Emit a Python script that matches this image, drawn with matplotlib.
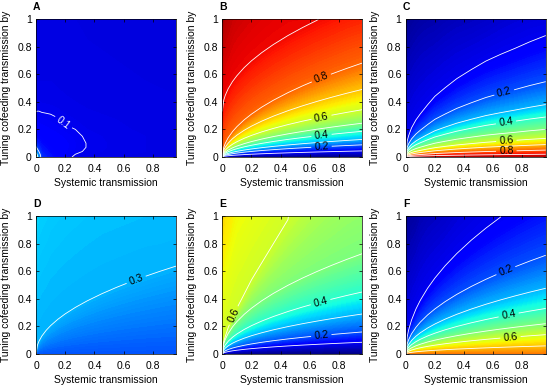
import numpy as np
import matplotlib
matplotlib.use('Agg')
import matplotlib.pyplot as plt

plt.rcParams['font.family'] = ['Liberation Sans', 'DejaVu Sans']

x_cols = [0, 0.01, 0.02, 0.04, 0.07, 0.1, 0.15, 0.2, 0.27, 0.35, 0.45, 0.55, 0.65, 0.75, 0.85, 0.96]

# ---- panel A: value table (not monotone in y, so a plain grid) ----
a_y = [0, 0.02, 0.04, 0.07, 0.1, 0.15, 0.2, 0.27, 0.35, 0.45, 0.55, 0.7, 0.85, 1.0]
# one list per x column, from y=0 up to y=1
a_cols = [
    [0.45, 0.34, 0.27, 0.21, 0.16, 0.13, 0.118, 0.108, 0.097, 0.093, 0.09, 0.088, 0.086, 0.085],
    [0.32, 0.28, 0.23, 0.18, 0.15, 0.128, 0.117, 0.107, 0.098, 0.093, 0.09, 0.088, 0.086, 0.085],
    [0.25, 0.23, 0.2, 0.165, 0.143, 0.126, 0.116, 0.107, 0.098, 0.093, 0.09, 0.088, 0.086, 0.085],
    [0.17, 0.16, 0.15, 0.14, 0.132, 0.122, 0.114, 0.106, 0.097, 0.092, 0.09, 0.088, 0.086, 0.085],
    [0.152, 0.146, 0.14, 0.133, 0.126, 0.119, 0.112, 0.105, 0.0965, 0.092, 0.09, 0.088, 0.086, 0.085],
    [0.14, 0.135, 0.13, 0.125, 0.12, 0.115, 0.11, 0.104, 0.096, 0.092, 0.09, 0.088, 0.086, 0.085],
    [0.12, 0.121, 0.121, 0.119, 0.117, 0.112, 0.107, 0.101, 0.095, 0.091, 0.089, 0.087, 0.086, 0.085],
    [0.104, 0.108, 0.111, 0.112, 0.112, 0.108, 0.103, 0.097, 0.093, 0.09, 0.089, 0.087, 0.086, 0.085],
    [0.098, 0.1, 0.103, 0.105, 0.105, 0.103, 0.1, 0.095, 0.091, 0.089, 0.088, 0.087, 0.086, 0.085],
    [0.093, 0.096, 0.098, 0.0995, 0.0995, 0.098, 0.095, 0.092, 0.09, 0.088, 0.087, 0.086, 0.085, 0.084],
    [0.091, 0.093, 0.095, 0.096, 0.096, 0.095, 0.093, 0.091, 0.089, 0.0875, 0.0865, 0.0855, 0.0845, 0.0835],
    [0.09, 0.091, 0.092, 0.093, 0.093, 0.092, 0.091, 0.09, 0.088, 0.087, 0.086, 0.085, 0.084, 0.083],
    [0.089, 0.09, 0.091, 0.0915, 0.0915, 0.091, 0.09, 0.089, 0.0875, 0.0865, 0.0855, 0.0845, 0.0835, 0.0825],
    [0.088, 0.089, 0.09, 0.09, 0.09, 0.09, 0.089, 0.088, 0.087, 0.086, 0.085, 0.084, 0.083, 0.082],
    [0.0875, 0.0885, 0.089, 0.0895, 0.0895, 0.089, 0.0885, 0.0875, 0.0865, 0.0855, 0.0845, 0.0835, 0.0825, 0.0815],
    [0.087, 0.088, 0.088, 0.089, 0.089, 0.088, 0.088, 0.087, 0.086, 0.085, 0.084, 0.083, 0.082, 0.081],
]

# ---- panels B-F: height of each contour level at every x in x_cols ----
# plus the value along the bottom (y=0) and along the top (y=1)
b_levels = [0.1, 0.2, 0.3, 0.4, 0.5, 0.6, 0.7, 0.8, 0.9]
b_lines = [
    [0, .0045, .0064, .009, .0119, .0142, .0174, .0201, .0234, .0266, .0302, .0334, .0363, .039, .0415, .0441],
    [0, .009, .0127, .018, .0238, .0285, .0349, .0402, .0468, .0532, .0604, .0667, .0726, .0779, .083, .0882],
    [0, .013, .0184, .026, .0344, .0411, .0503, .0581, .0675, .0769, .0872, .0964, .1048, .1126, .1199, .1274],
    [0, .019, .0269, .038, .0503, .0601, .0736, .085, .0987, .1124, .1275, .1409, .1532, .1645, .1752, .1862],
    [0, .025, .0354, .05, .0662, .0791, .0968, .1118, .1299, .1479, .1677, .1854, .2016, .2165, .2305, .245],
    [0, .035, .0495, .07, .0926, .1107, .1356, .1565, .1819, .2071, .2348, .2596, .2822, .3031, .3227, .3429],
    [0, .05, .0707, .1, .1323, .1581, .1937, .2236, .2598, .2958, .3354, .3708, .4031, .433, .461, .4899],
    [0, .0695, .0983, .139, .1839, .2198, .2692, .3108, .3611, .4112, .4662, .5154, .5603, .6019, .6408, .681],
    [.33, .412, .446, .494, .547, .589, .648, .697, .756, .815, .88, .938, .991, 1.04, 1.086, 1.133],
]
b_bottom = [0] * 16
b_top = [0.965, 0.955, 0.95, 0.945, 0.935, 0.93, 0.925, 0.92, 0.915, 0.91, 0.906, 0.905, 0.901, 0.891, 0.88, 0.871]

c_levels = [0.9, 0.8, 0.7, 0.6, 0.5, 0.4, 0.3, 0.2, 0.1]
c_lines = [
    [0, .0026, .0035, .0048, .0061, .0071, .0086, .01, .0114, .0129, .0144, .0158, .0169, .0179, .019, .02],
    [0, .0065, .0088, .012, .0153, .0178, .0215, .025, .0285, .0323, .036, .0395, .0423, .0448, .0474, .05],
    [0, .0117, .0158, .0216, .0275, .032, .0387, .045, .0513, .0581, .0648, .0711, .0761, .0806, .0853, .09],
    [0, .0176, .0236, .0324, .0412, .0479, .0581, .0675, .077, .0871, .0972, .1067, .1141, .1208, .128, .135],
    [0, .026, .035, .048, .061, .071, .086, .1, .114, .129, .144, .158, .169, .179, .19, .2],
    [0, .0377, .0508, .0696, .0885, .103, .1247, .145, .1653, .1871, .2088, .2291, .2451, .2596, .2749, .29],
    [0, .0494, .0665, .0912, .1159, .1349, .1634, .19, .2166, .2451, .2736, .3002, .3211, .3401, .3602, .38],
    [0, .071, .0956, .131, .1665, .1938, .2348, .273, .3112, .3522, .3931, .4313, .4614, .4887, .5176, .546],
    [0, .1144, .154, .2112, .2684, .3124, .3784, .44, .5016, .5676, .6336, .6952, .7436, .7876, .8342, .88],
]
c_bottom = [0.95] * 16
c_top = [0.012, 0.016, 0.021, 0.025, 0.03, 0.034, 0.038, 0.04, 0.047, 0.053, 0.057, 0.063, 0.071, 0.077, 0.082, 0.085]

d_levels = [0.22, 0.25, 0.3]
d_lines = [
    [0, .01, .0141, .02, .0265, .0316, .0387, .0447, .052, .0592, .0671, .0742, .0806, .0866, .0922, .098],
    [0, .03, .0424, .06, .0794, .0949, .1162, .1342, .1559, .1775, .2012, .2225, .2419, .2598, .2766, .2939],
    [0, .065, .0919, .13, .172, .2055, .2517, .2907, .3377, .3845, .436, .482, .524, .5629, .5993, .6369],
]
d_bottom = [0.205] * 16
d_top = [0.335, 0.333, 0.33, 0.328, 0.326, 0.323, 0.321, 0.319, 0.317, 0.315, 0.313, 0.312, 0.311, 0.31, 0.31, 0.309]

e_levels = [0.1, 0.2, 0.3, 0.4, 0.5, 0.6]
e_lines = [
    [0, .0087, .0123, .0174, .023, .0275, .0337, .0389, .0452, .0515, .0584, .0645, .0701, .0753, .0802, .0852],
    [0, .0163, .023, .0326, .0431, .0515, .0631, .0729, .0847, .0964, .1093, .1209, .1314, .1412, .1503, .1597],
    [0, .0296, .0419, .0592, .0783, .0936, .1146, .1324, .1538, .1751, .1986, .2195, .2386, .2563, .2729, .29],
    [0, .0459, .0649, .0918, .1215, .1451, .1778, .2053, .2385, .2715, .3079, .3404, .37, .3975, .4232, .4497],
    [0, .0742, .1049, .1484, .1963, .2346, .2874, .3318, .3855, .439, .4977, .5503, .5982, .6426, .6841, .727],
    [.02, .09, .126, .19, .265, .332, .434, .537, .66, .799, .973, 1.15, 1.33, 1.52, 1.71, 1.91],
]
e_bottom = [0] * 16
e_top = [0.686, 0.677, 0.671, 0.665, 0.652, 0.643, 0.637, 0.63, 0.622, 0.613, 0.601, 0.576, 0.555, 0.542, 0.531, 0.524]

f_levels = [0.7, 0.6, 0.5, 0.4, 0.3, 0.2, 0.1]
f_lines = [
    [0, .006, .0085, .012, .0159, .019, .0232, .0268, .0312, .0355, .0402, .0445, .0484, .052, .0553, .0588],
    [0, .0143, .0202, .0286, .0378, .0452, .0554, .0639, .0743, .0846, .0959, .1061, .1153, .1238, .1318, .1401],
    [0, .0224, .0317, .0448, .0593, .0708, .0868, .1002, .1164, .1325, .1503, .1661, .1806, .194, .2065, .2195],
    [0, .0337, .0477, .0674, .0892, .1066, .1305, .1507, .1751, .1994, .2261, .2499, .2717, .2918, .3107, .3302],
    [0, .0486, .0687, .0972, .1286, .1537, .1882, .2173, .2525, .2875, .326, .3604, .3918, .4209, .4481, .4762],
    [0, .073, .1032, .146, .1932, .2308, .2827, .3265, .3793, .4319, .4897, .5414, .5885, .6322, .6731, .7153],
    [0, .123, .1739, .246, .3255, .3889, .4764, .5501, .6391, .7277, .8251, .9122, .9916, 1.065, 1.134, 1.205],
]
f_bottom = [0.78] * 16
f_top = [0.014, 0.015, 0.022, 0.028, 0.033, 0.043, 0.051, 0.056, 0.064, 0.076, 0.086, 0.094, 0.1, 0.115, 0.129, 0.142]

panel_names = ['A', 'B', 'C', 'D', 'E', 'F']
line_levels = [0.1, 0.2, 0.3, 0.4, 0.5, 0.6, 0.7, 0.8, 0.9]
# which levels get a number (ascending), and roughly where (same order)
label_levels = [[0.1], [0.2, 0.4, 0.6, 0.8], [0.2, 0.4, 0.6, 0.8],
                [0.3], [0.2, 0.4, 0.6], [0.2, 0.4, 0.6]]
label_spots = [
    [(0.18, 0.24)],
    [(0.68, 0.075), (0.68, 0.16), (0.68, 0.29), (0.68, 0.57)],
    [(0.68, 0.45), (0.69, 0.232), (0.69, 0.116), (0.69, 0.039)],
    [(0.7, 0.5)],
    [(0.68, 0.12), (0.68, 0.35), (0.076, 0.28)],
    [(0.7, 0.57), (0.71, 0.26), (0.72, 0.1)],
]
label_colors = ['white', 'k', 'k', 'k', 'k', 'k']


def level_mesh(levels, lines, bottom, top):
    # rows: y=0, each read contour, y=1 ; a contour above the frame sits on the top edge
    n = len(x_cols)
    ys = np.array([np.zeros(n)] + [np.array(l, float) for l in lines] + [np.ones(n)])
    zs = np.array([np.array(bottom, float)] + [np.full(n, lv) for lv in levels]
                  + [np.array(top, float)])
    over = ys >= 1
    zs = np.where(over, np.array(top, float)[None, :], zs)
    ys = np.minimum(ys, 1)
    xs = np.tile(np.array(x_cols, float), (len(ys), 1))
    return xs, ys, zs


ax_grid, ay_grid = np.meshgrid(x_cols, a_y)
meshes = [
    (ax_grid, ay_grid, np.array(a_cols).T),
    level_mesh(b_levels, b_lines, b_bottom, b_top),
    level_mesh(c_levels, c_lines, c_bottom, c_top),
    level_mesh(d_levels, d_lines, d_bottom, d_top),
    level_mesh(e_levels, e_lines, e_bottom, e_top),
    level_mesh(f_levels, f_lines, f_bottom, f_top),
]

fig = plt.figure(figsize=(5.49, 3.89), dpi=100)
lefts = [36 / 549, 222.3 / 549, 405.7 / 549]
bottoms = [1 - 157 / 389, 1 - 354 / 389]
w = 140 / 549
h = 138 / 389

for i in range(6):
    ax = fig.add_axes([lefts[i % 3], bottoms[i // 3], w, h])
    X, Y, Z = meshes[i]
    ax.contourf(X, Y, Z, levels=np.linspace(0, 1, 201), cmap='jet', vmin=0, vmax=1)
    plain = [v for v in line_levels if v not in label_levels[i]]
    ax.contour(X, Y, Z, levels=plain, colors='white', linewidths=0.6)
    cs = ax.contour(X, Y, Z, levels=label_levels[i], colors='white', linewidths=0.6)
    ax.clabel(cs, manual=label_spots[i], inline=True, fmt='%g',
              fontsize=7.5, colors=label_colors[i], inline_spacing=3)
    ax.set_xlim(0, 0.96)
    ax.set_ylim(0, 1)
    ax.set_xticks([0, 0.2, 0.4, 0.6, 0.8])
    ax.set_xticklabels(['0', '0.2', '0.4', '0.6', '0.8'])
    ax.set_yticks([0, 0.2, 0.4, 0.6, 0.8, 1])
    ax.set_yticklabels(['0', '0.2', '0.4', '0.6', '0.8', '1'])
    ax.tick_params(direction='in', length=2.5, width=0.5, labelsize=7.5, pad=3,
                   top=True, right=True)
    ax.tick_params(axis='x', pad=5)
    for sp in ax.spines.values():
        sp.set_linewidth(0.5)
    ax.set_xlabel('Systemic transmission', fontsize=7.5)
    ax.set_ylabel('Tuning cofeeding transmission by', fontsize=7.5)
    ax.xaxis.set_label_coords(0.5, -0.15)
    ax.yaxis.set_label_coords(-0.18, 0.5)
    ax.text(0.005, 1.09, panel_names[i], transform=ax.transAxes, ha='center',
            va='center', fontsize=7.5, fontweight='bold')

fig.savefig('out.png', dpi=100)
